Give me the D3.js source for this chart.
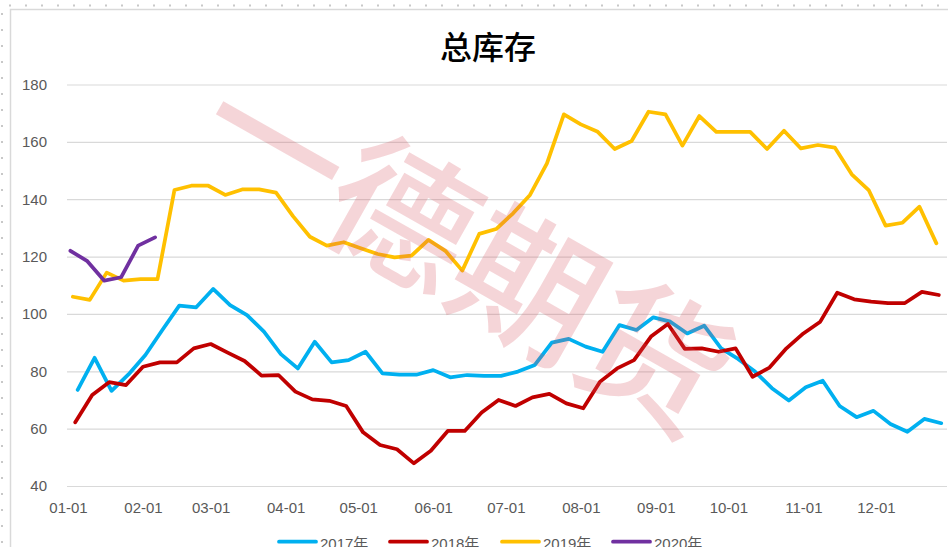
<!DOCTYPE html>
<html>
<head>
<meta charset="utf-8">
<script src="https://cdn.jsdelivr.net/npm/d3@7"></script>
<style>
  body { margin: 0; background: #fff; }
  svg { display: block; }
</style>
</head>
<body>
<div id="chart"></div>
<script>
// Size of the picture
const width = 948;
const height = 547;

// Weekly values
const values2017 = [73.5, 84.7, 73.2, 78.9, 85.7, 94.4, 102.9, 102.3, 108.7, 103.1, 99.6, 93.8, 86.0,
  81.0, 90.3, 83.1, 83.9, 86.8, 79.3, 78.8, 78.8, 80.4, 77.9, 78.7, 78.4, 78.4, 79.9, 82.2, 90.0,
  91.3, 88.6, 86.8, 96.1, 94.4, 98.8, 97.3, 93.2, 95.9, 88.0, 84.3, 79.9, 74.1, 69.8, 74.4, 76.7,
  67.9, 64.0, 66.2, 61.6, 58.9, 63.4, 61.9];
const values2018 = [62.2, 71.7, 76.2, 75.2, 81.6, 83.1, 83.1, 88.0, 89.5, 86.5, 83.6, 78.5, 78.7,
  72.9, 70.2, 69.7, 67.9, 58.7, 54.3, 52.8, 47.9, 52.3, 59.2, 59.2, 65.6, 70.0, 67.9, 70.9, 72.1,
  68.8, 67.1, 76.4, 81.0, 83.9, 92.1, 96.5, 87.8, 88.0, 86.8, 88.0, 78.1, 81.3, 88.0, 93.2, 97.3,
  107.4, 105.1, 104.3, 103.8, 103.8, 107.7, 106.6];
const values2019 = [106.0, 104.9, 114.4, 111.6, 112.1, 112.1, 143.2, 144.7, 144.7, 141.5, 143.4,
  143.4, 142.3, 134.1, 126.9, 123.8, 125.0, 122.9, 120.9, 119.7, 120.3, 125.8, 122.0, 115.1, 127.9,
  129.6, 135.1, 141.5, 152.5, 169.6, 166.1, 163.5, 157.5, 160.3, 170.5, 169.6, 158.7, 169.0, 163.5,
  163.5, 163.5, 157.5, 163.9, 157.7, 158.9, 158.0, 148.7, 143.2, 130.8, 131.8, 137.4, 124.6];
const values2020 = [122.0, 118.4, 111.6, 112.8, 123.8, 126.7];

// First report date of each year
const seriesNames = ["2017年", "2018年", "2019年", "2020年"];
const startDates = ["2017-01-05", "2018-01-04", "2019-01-03", "2020-01-02"];
const seriesValues = [values2017, values2018, values2019, values2020];
const seriesColors = ["#00B0F0", "#C00000", "#FFC000", "#7030A0"];

const yTicks = [40, 60, 80, 100, 120, 140, 160, 180];
const title = "总库存";
const watermark = "一德期货";

// every year is laid onto the same calendar
const parseDate = d3.timeParse("%Y-%m-%d");
function sameYear(d) {
  return new Date(2017, d.getMonth(), d.getDate());
}

let series = seriesNames.map((name, i) => {
  let start = parseDate(startDates[i]);
  return {
    name: name,
    color: seriesColors[i],
    points: seriesValues[i].map((v, k) => ({ date: sameYear(d3.timeDay.offset(start, 7 * k)), value: v }))
  };
});

const x = d3.scaleTime()
  .domain([new Date(2017, 0, 1), new Date(2017, 11, 31)])
  .range([68, 948.5]);
const y = d3.scaleLinear()
  .domain([40, 180])
  .range([486, 84.5]);

const svg = d3.select("#chart").append("svg")
  .attr("width", width)
  .attr("height", height);

// page dots and chart frame
svg.append("g").selectAll("rect").data(d3.range(10, width, 16)).enter()
  .append("rect")
  .attr("x", d => d - 1).attr("y", 4.5).attr("width", 2).attr("height", 2)
  .attr("fill", "#C8C8C8");
svg.append("g").selectAll("rect").data(d3.range(14, height, 16)).enter()
  .append("rect")
  .attr("x", 1).attr("y", d => d - 1).attr("width", 2).attr("height", 2)
  .attr("fill", "#C8C8C8");
svg.append("path")
  .attr("d", `M10.5,${height} V9.5 H${width}`)
  .attr("fill", "none")
  .attr("stroke", "#D9D9D9")
  .attr("stroke-width", 1.5);

// title
svg.append("text")
  .attr("x", 488)
  .attr("y", 45)
  .attr("text-anchor", "middle")
  .attr("dominant-baseline", "central")
  .style("font-family", "'Noto Sans CJK SC', sans-serif")
  .style("font-size", "32px")
  .style("font-weight", 500)
  .attr("fill", "#000")
  .text(title);

// y axis with gridlines
const yAxis = svg.append("g")
  .attr("transform", "translate(67,0)")
  .call(d3.axisLeft(y).tickValues(yTicks).tickSize(-880).tickPadding(20));
yAxis.select(".domain").remove();
yAxis.selectAll("line").attr("stroke", "#D9D9D9").attr("stroke-width", 1.2);
yAxis.selectAll("text")
  .attr("fill", "#595959")
  .style("font-family", "'Liberation Sans', Arial, sans-serif")
  .style("font-size", "15px");

// x axis, month labels
const xAxis = svg.append("g")
  .attr("transform", "translate(0,486)")
  .call(d3.axisBottom(x)
    .tickValues(d3.timeMonth.range(new Date(2017, 0, 1), new Date(2017, 11, 2)))
    .tickFormat(d3.timeFormat("%m-%d"))
    .tickSize(0)
    .tickPadding(16));
xAxis.select(".domain").remove();
xAxis.selectAll("text")
  .attr("fill", "#595959")
  .style("font-family", "'Liberation Sans', Arial, sans-serif")
  .style("font-size", "15px");

// lines
const line = d3.line()
  .x(d => x(d.date))
  .y(d => y(d.value));

svg.append("g").selectAll(".series").data(series).enter()
  .append("path")
  .classed("series", true)
  .attr("d", d => line(d.points))
  .attr("fill", "none")
  .attr("stroke", d => d.color)
  .attr("stroke-width", 3.75)
  .attr("stroke-linejoin", "round")
  .attr("stroke-linecap", "round");

// watermark, drawn over the lines
svg.append("text")
  .attr("transform", "translate(470,242) rotate(29.5)")
  .attr("text-anchor", "middle")
  .attr("dominant-baseline", "central")
  .style("font-family", "'Noto Sans CJK SC', sans-serif")
  .style("font-size", "145px")
  .style("font-weight", 500)
  .attr("fill", "rgb(214,80,90)")
  .attr("fill-opacity", 0.24)
  .text(watermark);

// legend, cut by the bottom edge
const legendX = [278, 389, 501, 612];
const legend = svg.append("g").selectAll(".legend").data(series).enter()
  .append("g")
  .classed("legend", true)
  .attr("transform", (d, i) => `translate(${legendX[i]},0)`);
legend.append("line")
  .attr("x1", 1).attr("x2", 38)
  .attr("y1", 541.7).attr("y2", 541.7)
  .attr("stroke", d => d.color)
  .attr("stroke-width", 3.75)
  .attr("stroke-linecap", "round");
legend.append("text")
  .attr("x", 42)
  .attr("y", 549)
  .attr("fill", "#595959")
  .style("font-family", "'Liberation Sans', 'Noto Sans CJK SC', sans-serif")
  .style("font-size", "15px")
  .text(d => d.name);
</script>
</body>
</html>
